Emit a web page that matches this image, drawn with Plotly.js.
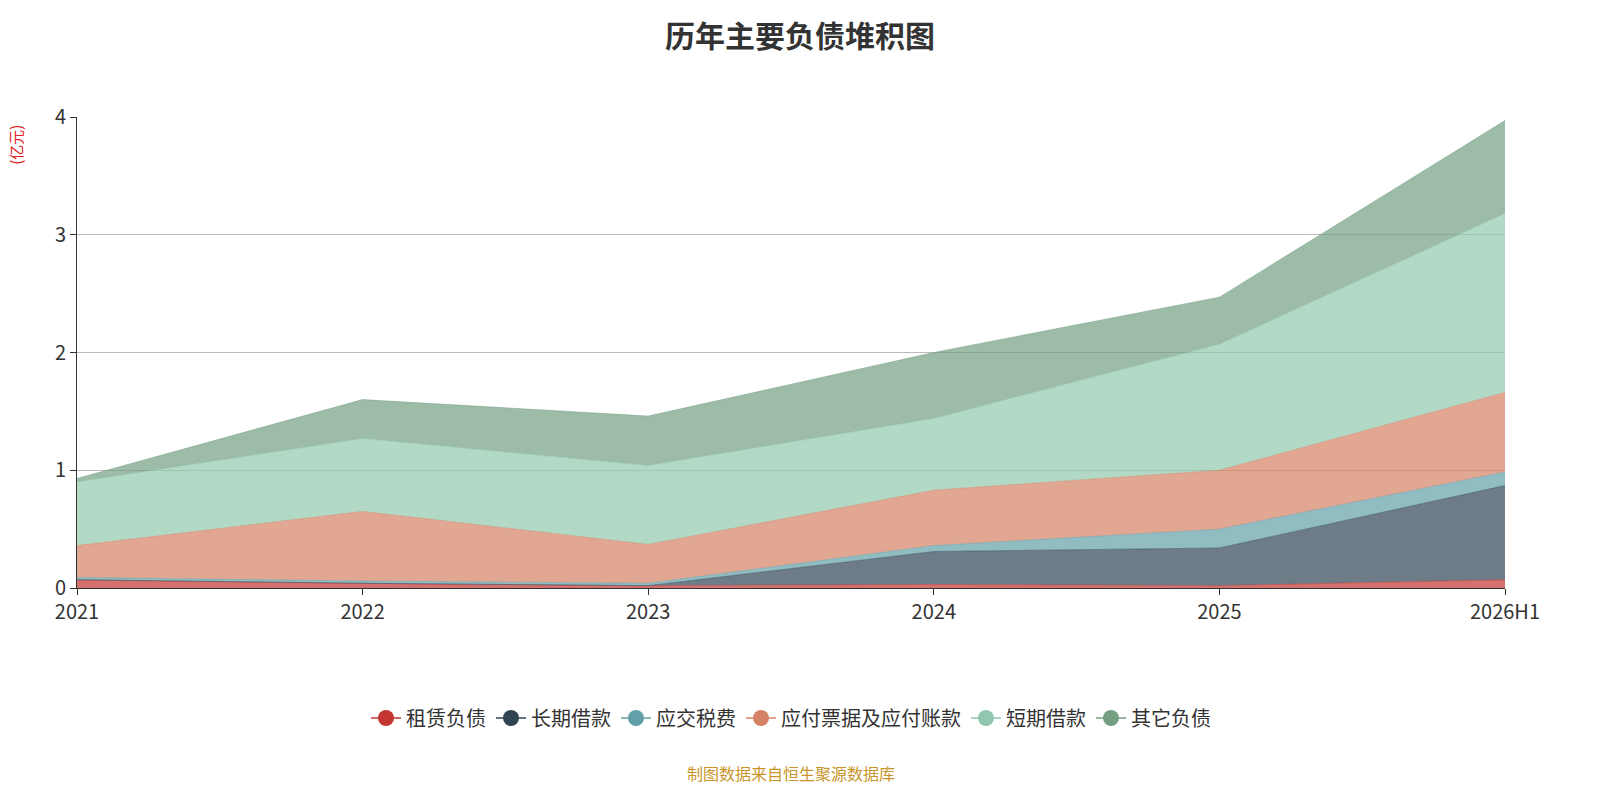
<!DOCTYPE html>
<html><head><meta charset="utf-8">
<script src="https://cdn.plot.ly/plotly-3.0.1.min.js"></script>
<style>body{margin:0}#c{width:1600px;height:800px}</style></head>
<body><div id="c"></div>
<script>
const years = ['2021','2022','2023','2024','2025','2026H1'];
const zulin = [0.07,0.04,0.02,0.03,0.02,0.07];
const changqi = [0,0,0,0.28,0.32,0.80];
const shuifei = [0.02,0.02,0.02,0.05,0.16,0.115];
const yingfu = [0.27,0.59,0.33,0.47,0.50,0.675];
const duanqi = [0.54,0.62,0.67,0.61,1.07,1.52];
const qita = [0.03,0.33,0.42,0.56,0.40,0.79];
const names = ['租赁负债','长期借款','应交税费','应付票据及应付账款','短期借款','其它负债'];
const series = [zulin,changqi,shuifei,yingfu,duanqi,qita];
const colors = ['#c23531','#2f4554','#61a0a8','#d48265','#91c7ae','#749f83'];
function rgba(h,a){const n=parseInt(h.slice(1),16);return `rgba(${n>>16},${(n>>8)&255},${n&255},${a})`;}
const traces=[];
series.forEach((s,i)=>{
  traces.push({x:years,y:s,type:'scatter',mode:'lines',stackgroup:'one',name:names[i],
    line:{width:0.5,color:colors[i]},fillcolor:rgba(colors[i],0.7),showlegend:false,hoverinfo:'y+name'});
});
series.forEach((s,i)=>{
  traces.push({x:[null],y:[null],type:'scatter',mode:'lines+markers',name:names[i],
    line:{width:1.5,color:colors[i]},marker:{size:16,color:colors[i]},showlegend:true});
});
const layout={
  width:1600,height:800,paper_bgcolor:'#fff',plot_bgcolor:'#fff',
  font:{family:'Noto Sans CJK SC, sans-serif',color:'#333'},
  title:{text:'<b>历年主要负债堆积图</b>',x:0.5,xanchor:'center',y:0.968,font:{size:30,color:'#333'}},
  margin:{l:77,r:95,t:117,b:212},
  xaxis:{type:'category',range:[0,5],automargin:false,showgrid:false,showline:true,linecolor:'#333',ticks:'outside',ticklen:6,tickcolor:'#333',tickfont:{size:20,color:'#333'},zeroline:false},
  yaxis:{range:[0,4],dtick:1,automargin:false,showgrid:true,gridcolor:'#bbb',showline:true,linecolor:'#333',ticks:'outside',ticklen:6,tickcolor:'#333',tickfont:{size:20,color:'#333'},zeroline:false},
  legend:{orientation:'h',traceorder:'normal',x:0.5,xanchor:'center',y:-0.276,yanchor:'middle',font:{size:20,color:'#333'}},
  annotations:[
    {text:'(亿元)',xref:'paper',yref:'paper',x:-0.043,y:0.94,xanchor:'center',yanchor:'middle',textangle:-90,showarrow:false,font:{size:15,color:'#e02020'}},
    {text:'制图数据来自恒生聚源数据库',xref:'paper',yref:'paper',x:0.5,y:-0.393,xanchor:'center',yanchor:'middle',showarrow:false,font:{size:16,color:'#c8952a'}}
  ]
};
Plotly.newPlot('c',traces,layout,{displayModeBar:false});
</script></body></html>
